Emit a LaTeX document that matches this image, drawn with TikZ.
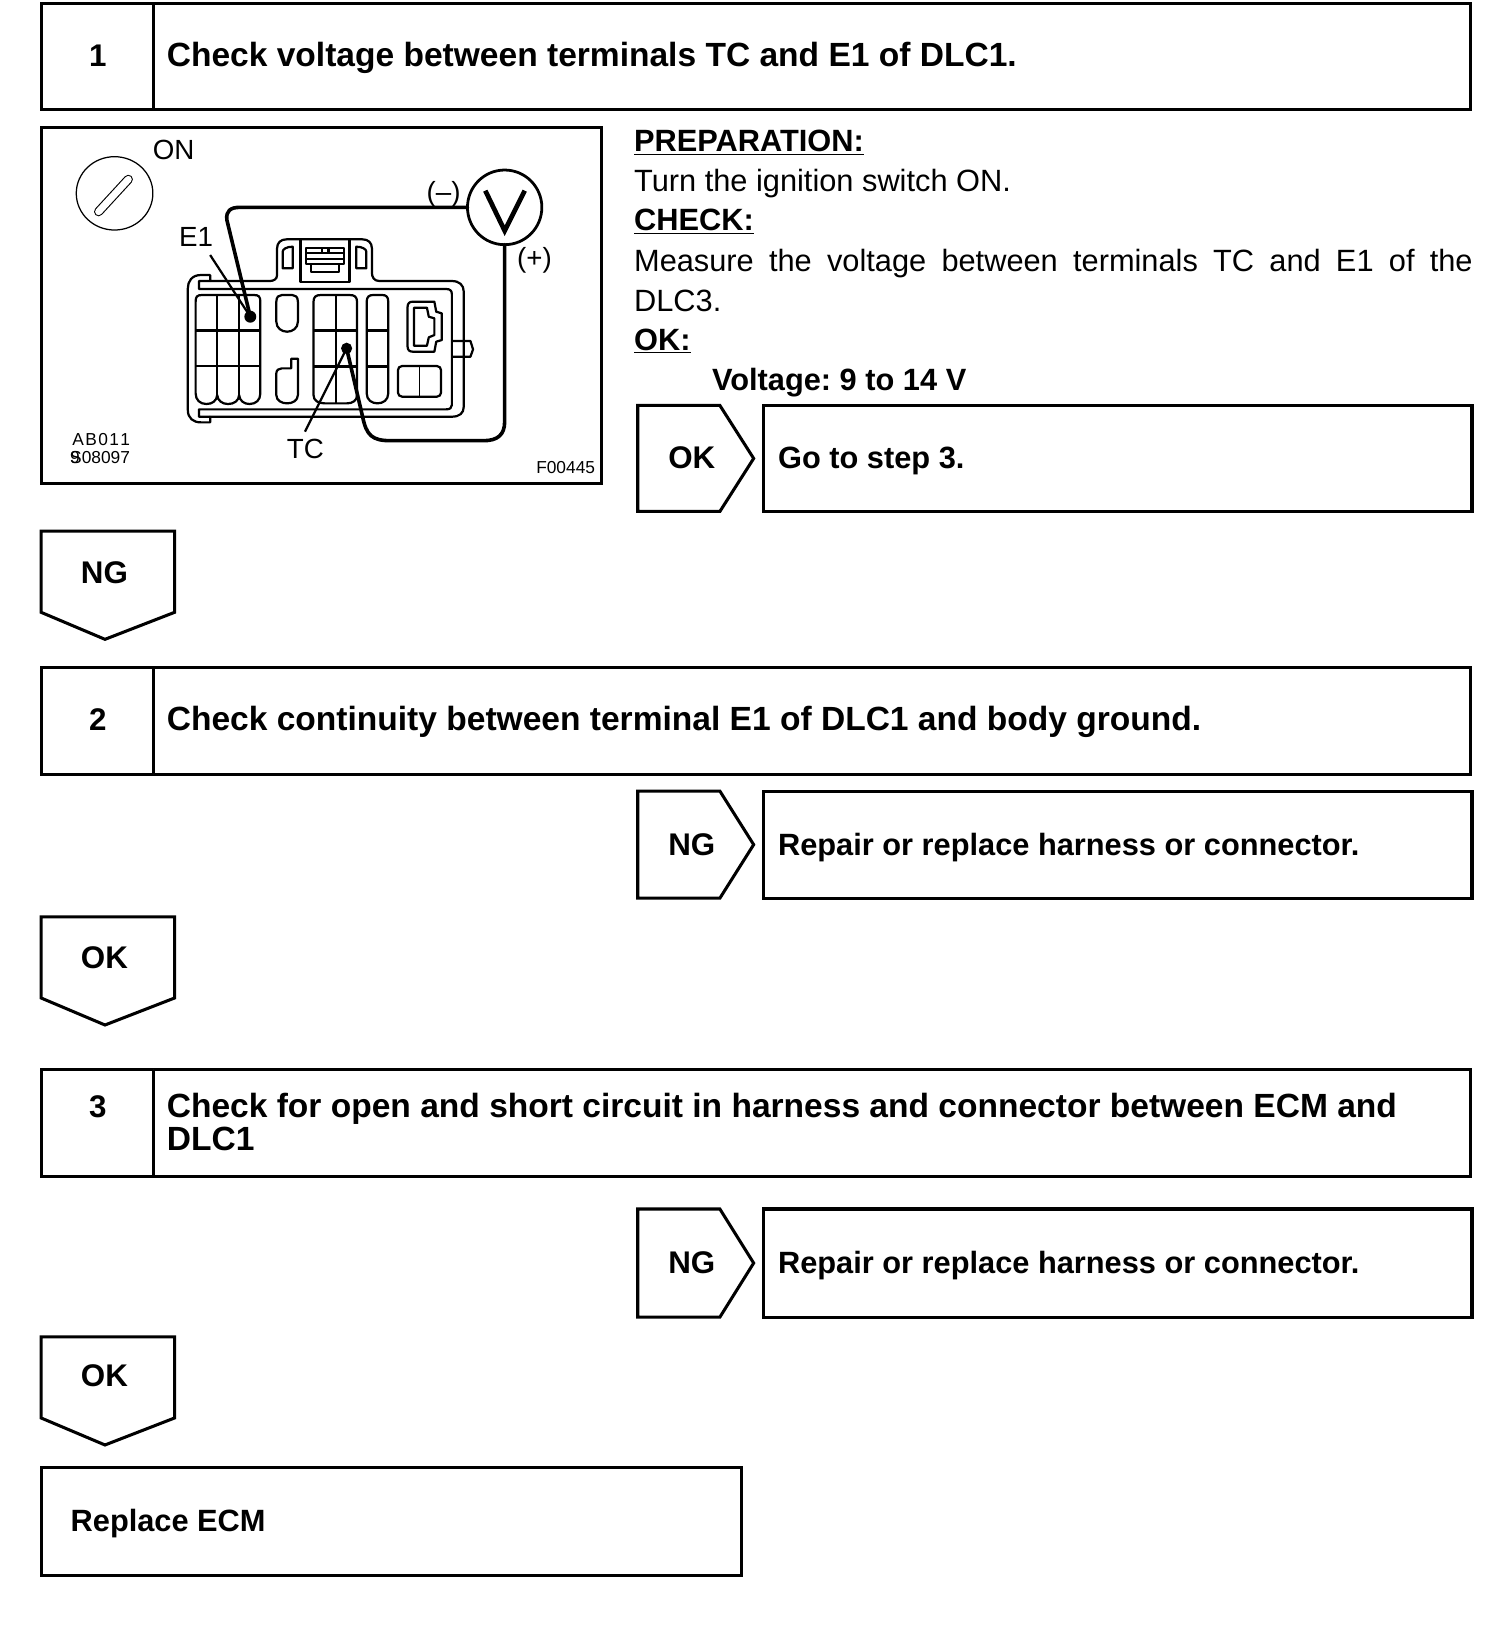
\documentclass[tikz,border=0pt]{standalone}
\usepackage{fontspec}
\setmainfont{Liberation Sans}
\usetikzlibrary{calc}
\newcommand{\bigb}{\fontsize{24.2}{25}\selectfont\bfseries}
\newcommand{\tagb}{\fontsize{22.6}{24}\selectfont\bfseries}
\newcommand{\midb}{\fontsize{22.2}{24}\selectfont\bfseries}
\newcommand{\bodyf}{\fontsize{22.2}{28.7}\selectfont}
\newcommand{\labf}{\fontsize{20}{22}\selectfont}
\newcommand{\smallf}{\fontsize{12.5}{14}\selectfont}
\tikzset{
  frame/.style={draw=black,line width=2.2pt,fill=white,line join=miter},
  tx/.style={inner sep=0pt,outer sep=0pt,anchor=base west},
  cx/.style={inner sep=0pt,outer sep=0pt,anchor=base},
  thin line/.style={draw=black,line width=0.9pt,line join=round},
  mid line/.style={draw=black,line width=1.6pt,line join=round},
  bold line/.style={draw=black,line width=2pt},
  wire/.style={draw=black,line width=2.6pt,line join=round,line cap=round},
}
\newcommand{\stepbox}[5]{% name, top, bottom, number, number baseline
  \draw[frame] (39.5,#2) rectangle (1414.5,#3);
  \draw[frame] (147.5,#2) -- (147.5,#3);
  \node[cx] (num#1) at (94,#5) {\tagb #4};
}
\newcommand{\rightTag}[5]{% name, top, bottom, tag, text
  \draw[frame] (613.5,#2) -- (692.5,#2) -- (725,{(#2+#3)/2}) -- (692.5,#3) -- (613.5,#3) -- cycle;
  \draw[frame] (734.5,#2) rectangle (1416,#3);
  \node[cx] (tag#1) at (665.5,{(#2+#3)/2+10}) {\tagb #4};
  \node[tx] (txt#1) at (748.5,{(#2+#3)/2+10}) {\midb #5};
}
\newcommand{\downTag}[4]{% name, top, tag, baseline
  \draw[frame] (39.5,#2) -- (168,#2) -- (168,{#2+78}) -- (101,{#2+104}) -- (39.5,{#2+78}) -- cycle;
  \node[cx] (down#1) at (100.5,#4) {\tagb #3};
}
\begin{document}
\begin{tikzpicture}[x=0.75pt,y=-0.75pt]
\useasboundingbox[fill=white] (0,0) rectangle (1447,1568);
\frenchspacing
\stepbox{a}{3}{105}{1}{64}
\node[tx] (ta) at (160.5,64) {\bigb Check voltage between terminals TC and E1 of DLC1.};
\stepbox{b}{642}{745}{2}{703}
\node[tx] (tb) at (160.5,703) {\bigb Check continuity between terminal E1 of DLC1 and body ground.};
\stepbox{c}{1029}{1132}{3}{1075}
\node[tx] (tc) at (160.5,1075) {\bigb Check for open and short circuit in harness and connector between ECM and};
\node[tx] (td) at (160.5,1107) {\bigb DLC1};

\rightTag{r1}{390}{492}{OK}{Go to step 3.}
\rightTag{r2}{761}{864}{NG}{Repair or replace harness or connector.}
\rightTag{r3}{1163}{1267}{NG}{Repair or replace harness or connector.}

\downTag{d1}{511}{NG}{561}
\downTag{d2}{882}{OK}{932}
\downTag{d3}{1286}{OK}{1334}

\draw[frame] (39.5,1412) rectangle (713,1515.5);
\node[tx] (rep) at (68,1473) {\midb Replace ECM};

% Right-hand text
\node[tx] (p1) at (610,146) {\midb\underline{PREPARATION:}};
\node[tx] (p2) at (610,184) {\bodyf Turn the ignition switch ON.};
\node[tx] (p3) at (610,222) {\midb\underline{CHECK:}};
\node[inner sep=0pt,outer sep=0pt,anchor=base west,text width=605pt,align=justify] (p4) at (610,261)
  {\bodyf Measure the voltage between terminals TC and E1 of the DLC3.\par};
\node[tx] (p5) at (610,337) {\midb\underline{OK:}};
\node[tx] (p6) at (685,376) {\midb Voltage: 9 to 14 V};

% Illustration
\draw[frame] (39.5,123) rectangle (579,465);
\begin{scope}[shift={(26.86,115.45)},x=0.2683pt,y=-0.2405pt]
  % key
  \draw[thin line] (233,220) ellipse [x radius=103,y radius=110];
  \coordinate (slotA) at (190,275);
  \coordinate (slotB) at (270,178);
  \draw[black,line width=6.6pt,line cap=round] (slotA) -- (slotB);
  \draw[white,line width=5pt,line cap=round] (slotA) -- (slotB);
  % connector housing
  \draw[mid line] (490,483) -- (490,465) -- (465,465) .. controls (440,465) and (430,485) .. (430,505)
    -- (430,870) .. controls (430,895) and (445,907) .. (465,907) -- (490,907) -- (490,890)
    -- (1140,890) .. controls (1160,890) and (1172,880) .. (1172,860) -- (1172,515)
    .. controls (1172,495) and (1160,483) .. (1140,483) -- (945,483)
    .. controls (930,483) and (925,470) .. (925,458) -- (925,385)
    .. controls (925,368) and (915,358) .. (900,358) -- (695,358)
    .. controls (680,358) and (670,368) .. (670,385) -- (670,465)
    .. controls (670,478) and (660,483) .. (650,483) -- cycle;
  \draw[mid line] (490,483) -- (460,483) -- (460,507) -- (1125,507) .. controls (1135,507) and (1140,512) .. (1140,522)
    -- (1140,855) .. controls (1140,863) and (1135,868) .. (1125,868) -- (460,868) -- (460,890) -- (490,890);
  % latch
  \draw[mid line] (733,358) -- (733,487) -- (865,487) -- (865,358);
  \draw[mid line] (748,385) -- (850,385) -- (850,432) -- (748,432) -- cycle;
  \draw[mid line] (748,400) -- (850,400) (748,416) -- (850,416) (790,385) -- (790,400) (808,385) -- (808,400);
  \draw[mid line] (762,432) -- (762,456) -- (836,456) -- (836,432);
  \draw[mid line] (685,445) -- (685,395) .. controls (685,388) and (695,380) .. (712,380) -- (712,445) -- cycle;
  \draw[mid line] (883,445) -- (883,380) .. controls (900,380) and (910,388) .. (910,395) -- (910,445) -- cycle;
  % left cavity block
  \begin{scope}[xshift=0.8pt]
  \draw[mid line] (448,545) .. controls (448,530) and (452,525) .. (465,525) -- (605,525)
    .. controls (618,525) and (622,530) .. (622,545) -- (622,820)
    .. controls (622,840) and (610,852) .. (593,852) .. controls (578,852) and (566,842) .. (565,825)
    .. controls (564,842) and (552,852) .. (535,852) .. controls (520,852) and (507,842) .. (506,825)
    .. controls (505,842) and (493,852) .. (477,852) .. controls (460,852) and (448,840) .. (448,820) -- cycle;
  \draw[mid line] (506,525) -- (506,825) (565,525) -- (565,825);
  \draw[bold line] (448,632) -- (622,632) (448,738) -- (622,738);
  % small cavities
  \draw[mid line] (665,545) .. controls (665,530) and (672,525) .. (680,525) -- (708,525)
    .. controls (716,525) and (723,530) .. (723,545) -- (723,605)
    .. controls (723,625) and (708,635) .. (694,635) .. controls (680,635) and (665,625) .. (665,605) -- cycle;
  \draw[mid line] (665,760) .. controls (665,750) and (672,745) .. (680,745) -- (705,745) -- (705,716) -- (723,716)
    -- (723,825) .. controls (723,842) and (708,850) .. (694,850) .. controls (680,850) and (665,842) .. (665,825) -- cycle;
  % centre block
  \draw[mid line] (765,545) .. controls (765,530) and (772,525) .. (785,525) -- (862,525)
    .. controls (875,525) and (882,530) .. (882,545) -- (882,825)
    .. controls (882,842) and (870,850) .. (855,850) -- (795,850)
    .. controls (778,850) and (765,842) .. (765,825) -- cycle;
  \draw[mid line] (825,525) -- (825,850);
  \draw[bold line] (765,632) -- (882,632) (765,740) -- (882,740);
  % right column
  \draw[mid line] (908,545) .. controls (908,530) and (915,525) .. (925,525) -- (950,525)
    .. controls (960,525) and (966,530) .. (966,545) -- (966,820)
    .. controls (966,840) and (952,850) .. (937,850) .. controls (922,850) and (908,840) .. (908,820) -- cycle;
  \draw[bold line] (908,632) -- (966,632) (908,740) -- (966,740);
  % DLC socket
  \draw[mid line] (1018,560) .. controls (1018,550) and (1023,545) .. (1032,545) -- (1090,545) -- (1095,575) -- (1110,580)
    -- (1110,660) -- (1095,665) -- (1090,695) -- (1032,695) .. controls (1023,695) and (1018,690) .. (1018,680) -- cycle;
  \draw[mid line] (1035,563) -- (1070,563) -- (1075,590) -- (1090,595) -- (1090,645) -- (1075,652) -- (1070,677) -- (1035,677) -- cycle;
  \draw[mid line,rounded corners=3pt] (992,738) rectangle (1108,830);
  \draw[thin line] (1050,738) -- (1050,830);
  \end{scope}
  \draw[mid line] (1140,663) -- (1190,663) -- (1197,688) -- (1190,710) -- (1140,710);
  % meter and wires
  \draw[black,line width=2pt] (1282,262) ellipse [x radius=100,y radius=112];
  \draw[black,line width=3.4pt,line join=miter] (1230,212) -- (1282,332) -- (1336,212);
  \coordinate (mL) at (1182,262);
  \coordinate (mB) at (1282,374);
  \coordinate (e1pin) at (598,590);
  \coordinate (tcpin) at (857,685);
  \fill (e1pin) ellipse [x radius=16,y radius=18];
  \fill (tcpin) ellipse [x radius=15,y radius=17];
  \draw[wire] (mL) -- (570,262) .. controls (545,262) and (532,272) .. (535,300) -- (e1pin);
  \draw[wire] (mB) -- (1282,905) .. controls (1282,945) and (1262,962) .. (1225,962) -- (975,962)
     .. controls (925,962) and (910,945) .. (900,890) -- (tcpin);
  \draw[mid line] (490,405) -- (e1pin);
  \draw[mid line] (745,935) -- (tcpin);
  % labels
  \node[cx] (on) at (392,117) {\labf ON};
  \node[cx] (e) at (452,378) {\labf E1};
  \node[cx] (mi) at (1118,245) {\labf (–)};
  \node[cx] (pl) at (1362,443) {\labf (+)};
  \node[cx] (tcl) at (746,1015) {\labf TC};
  \node[cx] (v1) at (197,975) {\smallf A\kern1pt B\kern1pt 0\kern1pt 1\kern1pt 1};
  \node[cx] (v2) at (194,1030) {\smallf\rlap{9}S08097};
  \node[cx] (v3) at (1446,1060) {\smallf F00445};
\end{scope}
\end{tikzpicture}
\end{document}
